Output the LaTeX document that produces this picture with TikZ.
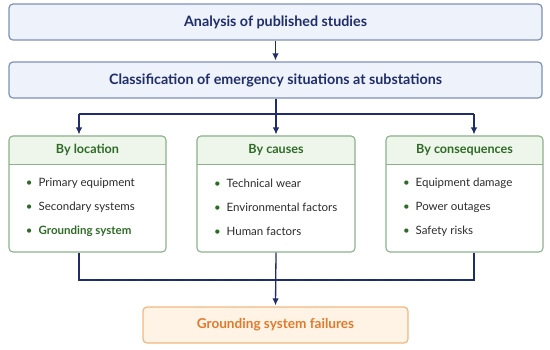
\documentclass[tikz,border=0pt]{standalone}
\usepackage{fontspec}
\setmainfont{Lato}
\usetikzlibrary{positioning, calc, backgrounds, arrows.meta}

\definecolor{navy}{HTML}{1F2D6B}
\definecolor{stageFill}{HTML}{EEF3FB}
\definecolor{stageDraw}{HTML}{7F90B5}
\definecolor{catDraw}{HTML}{8CB08C}
\definecolor{catFill}{HTML}{EEF5EA}
\definecolor{catText}{HTML}{2E6B26}
\definecolor{itemText}{HTML}{2B2B2B}
\definecolor{resFill}{HTML}{FEF3E4}
\definecolor{resDraw}{HTML}{F2B783}
\definecolor{resText}{HTML}{E27A2E}

\newcommand{\itm}{{\color{catText}\textbullet}\hspace{6pt}}

\begin{document}
\begin{tikzpicture}[
		x=1pt, y=-1pt,
		% Style for the two stage boxes on top
		stage/.style={
			draw=stageDraw, fill=stageFill, line width=1.2pt, rounded corners=4pt,
			minimum width=533pt, minimum height=36pt, inner sep=0pt,
			font=\fontsize{14.3}{16}\selectfont\bfseries, text=navy
		},
		% Styles for the three category boxes
		catbox/.style={draw=catDraw, line width=1.1pt, rounded corners=4pt, minimum height=116pt, inner sep=0pt},
		cathead/.style={minimum height=29pt, inner sep=0pt, font=\fontsize{12.6}{15}\selectfont\bfseries, text=catText},
		items/.style={align=left, text=itemText, font=\fontsize{11.5}{24}\selectfont, anchor=west, inner sep=0pt},
		% Style for the final result box
		result/.style={
			draw=resDraw, fill=resFill, line width=1.2pt, rounded corners=4pt,
			minimum width=265pt, minimum height=36pt, inner sep=0pt,
			font=\fontsize{13.6}{16}\selectfont\bfseries, text=resText
		},
		% Connector styles
		link/.style={draw=navy, line width=1.3pt},
		arrow/.style={link, -{Latex[length=7pt, width=6.5pt]}, shorten >=1pt}
		]
		\useasboundingbox (0,0) rectangle (550,349);
		
		% ==============================================================================
		% 1. STAGE BOXES
		% ==============================================================================
		\node[stage] (study) at (275.5,22) {Analysis of published studies};
		\node[stage] (classif) at (275.5,80) {Classification of emergency situations at substations};
		
		% ==============================================================================
		% 2. CATEGORY: By location
		% ==============================================================================
		\node[catbox, minimum width=157pt] (loc) at (87.5,194) {};
		\node[cathead, minimum width=157pt, anchor=north] (locH) at (loc.north) {By location};
		\begin{scope}[on background layer]
			\fill[catFill, rounded corners=4pt] (locH.north west) rectangle (locH.south east);
			\fill[catFill] ($(locH.west)$) rectangle (locH.south east);
		\end{scope}
		\draw[catDraw, line width=1.1pt] (locH.south west) -- (locH.south east);
		\node[items] (locI) at ($(locH.south west)+(17,42)$) {
			\itm Primary equipment \\
			\itm Secondary systems \\
			\itm {\color{catText}\bfseries Grounding system}
		};
		
		% ==============================================================================
		% 3. CATEGORY: By causes
		% ==============================================================================
		\node[catbox, minimum width=158pt] (cause) at (276,194) {};
		\node[cathead, minimum width=158pt, anchor=north] (causeH) at (cause.north) {By causes};
		\begin{scope}[on background layer]
			\fill[catFill, rounded corners=4pt] (causeH.north west) rectangle (causeH.south east);
			\fill[catFill] ($(causeH.west)$) rectangle (causeH.south east);
		\end{scope}
		\draw[catDraw, line width=1.1pt] (causeH.south west) -- (causeH.south east);
		\node[items] (causeI) at ($(causeH.south west)+(17,42)$) {
			\itm Technical wear \\
			\itm Environmental factors \\
			\itm Human factors
		};
		
		% ==============================================================================
		% 4. CATEGORY: By consequences
		% ==============================================================================
		\node[catbox, minimum width=157pt] (cons) at (464.5,194) {};
		\node[cathead, minimum width=157pt, anchor=north] (consH) at (cons.north) {By consequences};
		\begin{scope}[on background layer]
			\fill[catFill, rounded corners=4pt] (consH.north west) rectangle (consH.south east);
			\fill[catFill] ($(consH.west)$) rectangle (consH.south east);
		\end{scope}
		\draw[catDraw, line width=1.1pt] (consH.south west) -- (consH.south east);
		\node[items] (consI) at ($(consH.south west)+(17,42)$) {
			\itm Equipment damage \\
			\itm Power outages \\
			\itm Safety risks
		};
		
		% ==============================================================================
		% 5. RESULT
		% ==============================================================================
		\node[result] (res) at (275.5,325) {Grounding system failures};
		
		% ==============================================================================
		% 6. CONNECTORS
		% ==============================================================================
		\coordinate (splitL) at (79,114);
		\coordinate (splitC) at (276,114);
		\coordinate (splitR) at (474,114);
		\coordinate (joinL) at (79,280);
		\coordinate (joinR) at (474,280);
		
		\draw[arrow] (study) -- (classif);
		\draw[link] (classif.south -| splitC) -- (splitC);
		\draw[link] (splitL) -- (splitR);
		\draw[arrow] (splitL) -- (splitL |- loc.north);
		\draw[arrow] (splitC) -- (cause.north);
		\draw[arrow] (splitR) -- (splitR |- cons.north);
		
		\draw[link] (loc.south -| joinL) -- (joinL) -- (joinR) -- (cons.south -| joinR);
		\draw[arrow] (cause.south) -- (res.north);
	\end{tikzpicture}
\end{document}
